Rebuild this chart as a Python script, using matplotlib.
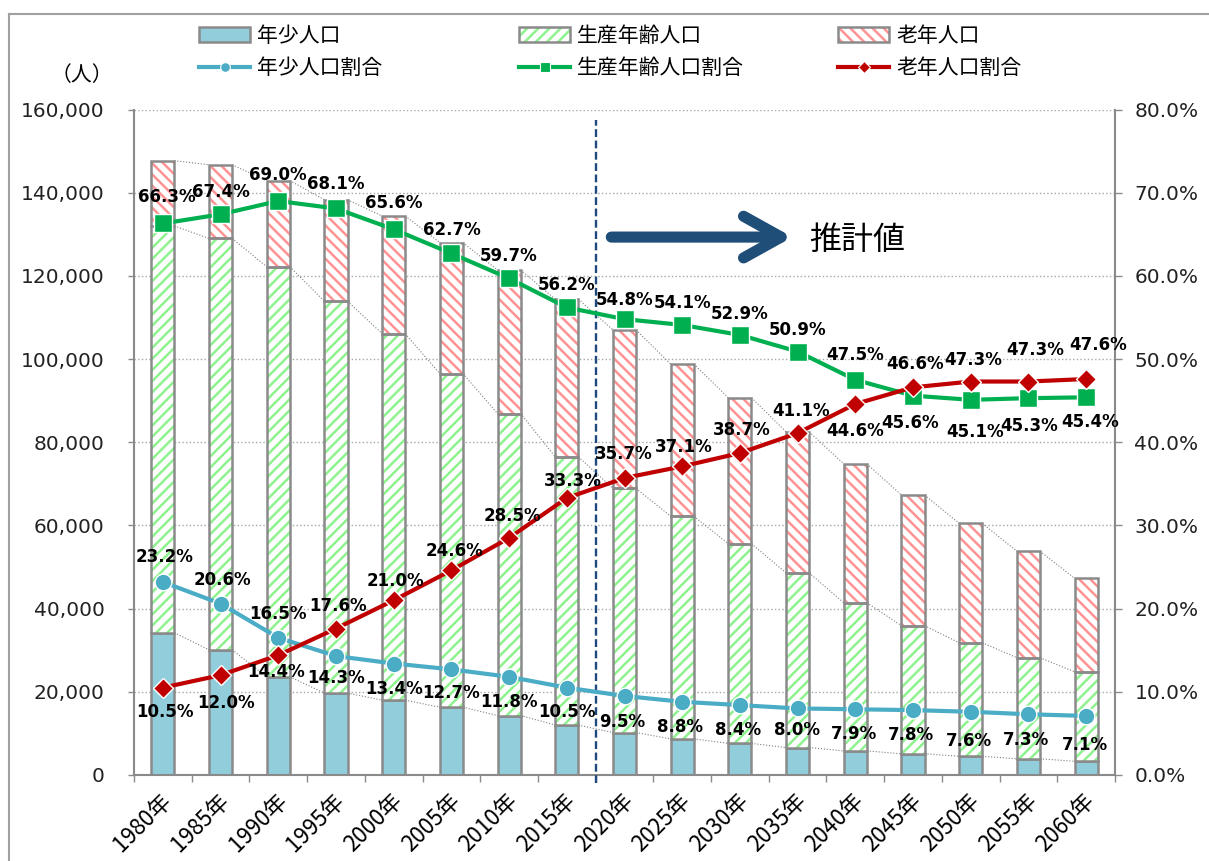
import matplotlib
matplotlib.use('Agg')
import matplotlib.pyplot as plt
import numpy as np
from matplotlib.patches import Patch
from matplotlib.lines import Line2D
from matplotlib.ticker import FuncFormatter, MultipleLocator
import matplotlib.transforms as mtrans

# ---------------- data ----------------
years = ['1980年', '1985年', '1990年', '1995年', '2000年', '2005年', '2010年', '2015年',
         '2020年', '2025年', '2030年', '2035年', '2040年', '2045年', '2050年', '2055年', '2060年']
young = [34200, 30100, 23600, 19700, 18000, 16300, 14300, 12000,
         10200, 8700, 7600, 6600, 5800, 5100, 4500, 3900, 3300]
working = [97800, 98900, 98600, 94200, 88100, 80200, 72600, 64500,
           58700, 53500, 48000, 42000, 35600, 30800, 27300, 24300, 21500]
elderly = [15700, 17700, 20700, 24400, 28300, 31500, 34500, 37900,
           38100, 36600, 35100, 33900, 33400, 31400, 28700, 25600, 22500]
young_pct = [23.2, 20.6, 16.5, 14.3, 13.4, 12.7, 11.8, 10.5,
             9.5, 8.8, 8.4, 8.0, 7.9, 7.8, 7.6, 7.3, 7.1]
working_pct = [66.3, 67.4, 69.0, 68.1, 65.6, 62.7, 59.7, 56.2,
               54.8, 54.1, 52.9, 50.9, 47.5, 45.6, 45.1, 45.3, 45.4]
elderly_pct = [10.5, 12.0, 14.4, 17.6, 21.0, 24.6, 28.5, 33.3,
               35.7, 37.1, 38.7, 41.1, 44.6, 46.6, 47.3, 47.3, 47.6]
legend_bars = ['年少人口', '生産年齢人口', '老年人口']
legend_lines = ['年少人口割合', '生産年齢人口割合', '老年人口割合']
y_unit = '（人）'
estimate_text = '推計値'

# label offsets in screen pixels (dx, dy; dy positive = down)
young_off = [(2, -25), (2, -24), (0, -24), (0, 22), (0, 25), (0, 24), (0, 25), (0, 24), (-2, 26),
             (-2, 25), (-2, 25), (-1, 22), (-1, 25), (-2, 25), (-2, 29), (-2, 26), (-1, 29)]
working_off = [(4, -26), (0, -22), (0, -26), (0, -24), (0, -26), (0, -23), (0, -22), (0, -22), (0, -19),
               (0, -22), (0, -21), (0, -22), (0, -25), (-3, 27), (4, 32), (1, 28), (4, 25)]
elderly_off = [(2, 24), (5, 28), (-2, 17), (2, -23), (2, -19), (3, -19), (3, -22), (6, -17), (-1, -24),
               (2, -19), (2, -23), (3, -22), (0, 27), (2, -23), (2, -22), (7, -32), (12, -34)]

# ---------------- style ----------------
plt.rcParams['font.family'] = ['DejaVu Sans', 'Noto Sans CJK JP']
plt.rcParams['hatch.linewidth'] = 1.8
CJK = ['Noto Sans CJK JP', 'DejaVu Sans']
EDGE = '#8A8A8A'
BLUE_BAR = '#92CDDC'
GREEN_H = '#8EF28E'
RED_H = '#FF9292'
C_YOUNG = '#4BACC6'
C_WORK = '#00B050'
C_OLD = '#C00000'
NAVY = '#1F4E79'

W, H = 1209, 861
fig = plt.figure(figsize=(W / 100, H / 100), dpi=100)
ax = fig.add_axes([134 / W, 1 - 775 / H, (1115 - 134) / W, (775 - 109.5) / H])

x = np.arange(len(years))
bw = 0.4
y1 = np.array(young, dtype=float)
y2 = y1 + np.array(working, dtype=float)
y3 = y2 + np.array(elderly, dtype=float)

ax.bar(x, young, bw, color=BLUE_BAR, edgecolor=EDGE, linewidth=1.8, zorder=2)
ax.bar(x, working, bw, bottom=y1, color='white', edgecolor=GREEN_H, hatch='///', linewidth=0, zorder=2)
ax.bar(x, working, bw, bottom=y1, fill=False, edgecolor=EDGE, linewidth=1.8, zorder=3)
ax.bar(x, elderly, bw, bottom=y2, color='white', edgecolor=RED_H, hatch='\\\\\\', linewidth=0, zorder=2)
ax.bar(x, elderly, bw, bottom=y2, fill=False, edgecolor=EDGE, linewidth=1.8, zorder=3)

# series lines
for lev in (y1, y2, y3):
    for i in range(len(x) - 1):
        ax.plot([x[i] + bw / 2, x[i + 1] - bw / 2], [lev[i], lev[i + 1]], ls=':', color='#7F7F7F',
                lw=0.8, zorder=1)

ax.set_xlim(-0.5, len(x) - 0.5)
ax.set_ylim(0, 160000)
ax.yaxis.set_major_locator(MultipleLocator(20000))
ax.yaxis.set_major_formatter(FuncFormatter(lambda v, p: f'{int(v):,}'))
ax.yaxis.grid(True, linestyle=':', color='#A6A6A6', lw=1)
ax.set_axisbelow(True)
ax.tick_params(axis='y', length=4.3, width=1, color=EDGE, labelsize=14.5, pad=17, labelcolor='#222222')

ax.set_xticks(x)
ax.set_xticklabels(years, fontsize=16, family=CJK)
ax.set_xticks(np.arange(-0.5, len(x), 1), minor=True)
ax.tick_params(axis='x', which='major', length=0, pad=16)
ax.tick_params(axis='x', which='minor', length=5, color=EDGE, width=1)
off = mtrans.ScaledTranslation(5 / 100, 0, fig.dpi_scale_trans)
for lbl in ax.get_xticklabels():
    lbl.set_rotation(45)
    lbl.set_ha('right')
    lbl.set_va('center')
    lbl.set_rotation_mode('anchor')
    lbl.set_transform(lbl.get_transform() + off)

for s in ('top', 'right'):
    ax.spines[s].set_visible(False)
for s in ('left', 'bottom'):
    ax.spines[s].set_color(EDGE)
    ax.spines[s].set_linewidth(1.5)

# ---------------- secondary axis ----------------
ax2 = ax.twinx()
ax2.set_ylim(0, 80)
ax2.yaxis.set_major_locator(MultipleLocator(10))
ax2.yaxis.set_major_formatter(FuncFormatter(lambda v, p: f'{v:.1f}%'))
ax2.tick_params(axis='y', length=5, width=1, color=EDGE, labelsize=14.5, pad=9, labelcolor='#222222')
for s in ('top', 'left', 'bottom'):
    ax2.spines[s].set_visible(False)
ax2.spines['right'].set_color(EDGE)
ax2.spines['right'].set_linewidth(1.5)

ax2.plot(x, young_pct, color=C_YOUNG, lw=3, marker='o', ms=12, mec='white', mew=1, zorder=5)
ax2.plot(x, working_pct, color=C_WORK, lw=3, marker='s', ms=13.5, mec='white', mew=1, zorder=5)
ax2.plot(x, elderly_pct, color=C_OLD, lw=3, marker='D', ms=10, mec='white', mew=1, zorder=5)

for vals, offs in ((young_pct, young_off), (working_pct, working_off), (elderly_pct, elderly_off)):
    for i, v in enumerate(vals):
        dx, dy = offs[i]
        ax2.annotate(f'{v:.1f}%', (x[i], v), xytext=(dx * 0.72, -dy * 0.72), textcoords='offset points',
                     ha='center', va='center', fontsize=12, fontweight='bold', color='black', zorder=6)

# dashed divider (between 2015 and 2020)
ax.plot([7.5, 7.5], [-1900, 157500], ls=(0, (3.3, 1.5)), color='#1F497D', lw=1.7, clip_on=False, zorder=4)

# arrow and text
ya = (775 - 237) / 4.16 * 1000
ax.annotate('', xy=((793 - 164) / 57.65, ya), xytext=((612 - 164) / 57.65, ya),
            arrowprops=dict(arrowstyle='->,head_length=2.7,head_width=1.5', lw=8, color=NAVY,
                            shrinkA=0, shrinkB=0, capstyle='round', joinstyle='round',
                            mutation_scale=10), zorder=6)
ax.text((810 - 164) / 57.65, (775 - 240) / 4.16 * 1000, estimate_text, fontsize=23, va='center',
        ha='left', family=CJK, zorder=6)

# ---------------- legend ----------------
bar_handles = [
    Patch(facecolor=BLUE_BAR, edgecolor=EDGE, lw=1.8),
    (Patch(facecolor='white', edgecolor=GREEN_H, hatch='///', lw=0), Patch(fill=False, edgecolor=EDGE, lw=1.8)),
    (Patch(facecolor='white', edgecolor=RED_H, hatch='\\\\\\', lw=0), Patch(fill=False, edgecolor=EDGE, lw=1.8)),
]
line_handles = [
    Line2D([], [], color=C_YOUNG, lw=3, marker='o', ms=7, mec='white', mew=0.8),
    Line2D([], [], color=C_WORK, lw=3, marker='s', ms=7, mec='white', mew=0.8),
    Line2D([], [], color=C_OLD, lw=3, marker='D', ms=6, mec='white', mew=0.8),
]
col_x = [199, 519, 838]
for k in range(3):
    fig.legend(handles=[bar_handles[k], line_handles[k]], labels=[legend_bars[k], legend_lines[k]],
               loc='upper left', bbox_to_anchor=(col_x[k] / W, 1 - 25 / H), frameon=False,
               prop={'family': CJK, 'size': 15}, handlelength=2.45, handletextpad=0.33,
               labelspacing=0.5, borderpad=0, borderaxespad=0)

fig.text(82 / W, 1 - 75 / H, y_unit, ha='center', va='center', fontsize=15, family=CJK)

# chart-area frame
fig.add_artist(Line2D([9 / W, 9 / W], [0, 1 - 14 / H], transform=fig.transFigure, color='#A0A0A0', lw=1.5))
fig.add_artist(Line2D([9 / W, 1], [1 - 14 / H, 1 - 14 / H], transform=fig.transFigure, color='#A0A0A0', lw=1.5))

fig.savefig('out.png', dpi=100)
